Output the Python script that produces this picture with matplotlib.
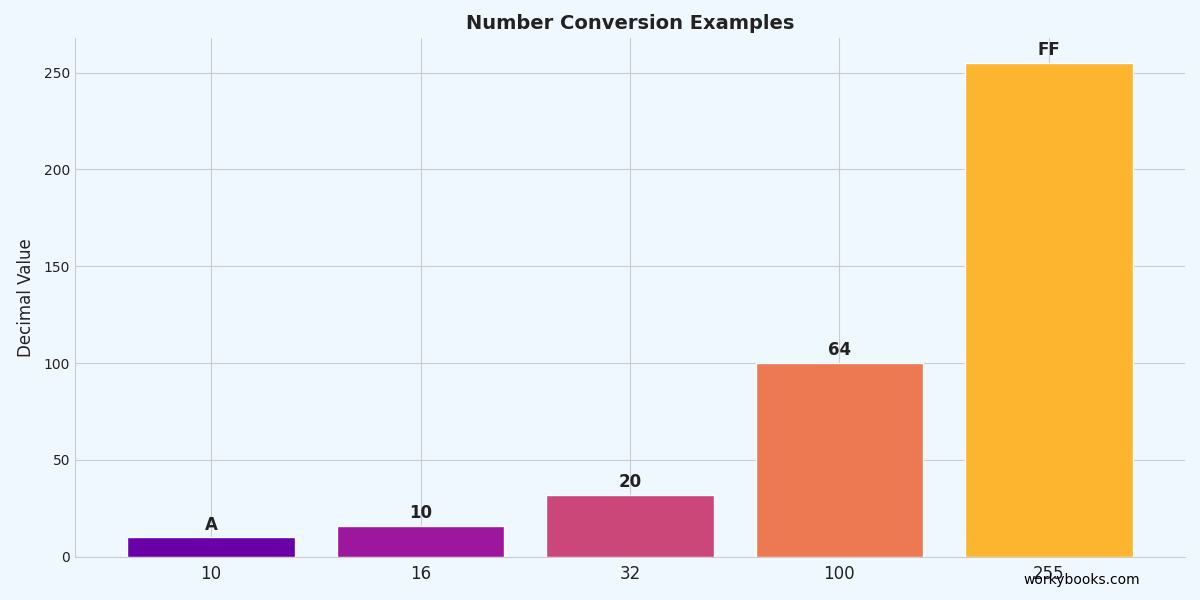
import matplotlib
matplotlib.use('Agg')
import matplotlib.pyplot as plt

categories = ['10', '16', '32', '100', '255']
values = [10, 16, 32, 100, 255]
hex_labels = ['A', '10', '20', '64', 'FF']
colors = ['#6a00a8', '#9c179e', '#cb4679', '#ed7953', '#fdb42f']

fig = plt.figure(figsize=(12, 6), dpi=100, facecolor='#f0f8ff')
ax = fig.add_axes([0.0625, 0.072, 0.925, 0.865])
ax.set_facecolor('#f0f8ff')

x = range(len(categories))
bars = ax.bar(x, values, width=0.8, color=colors, edgecolor='white', linewidth=1, zorder=3)
for b, lab in zip(bars, hex_labels):
    ax.text(b.get_x() + b.get_width() / 2, b.get_height() + 2, lab,
            ha='center', va='bottom', fontsize=12, fontweight='bold', color='#222222', zorder=4)

ax.set_xticks(list(x))
ax.set_xticklabels(categories, fontsize=12)
ax.set_xlim(-0.65, 4.65)
ax.set_ylim(0, 268)
ax.set_yticks([0, 50, 100, 150, 200, 250])
ax.tick_params(axis='y', labelsize=10, length=0, labelcolor='#222222')
ax.tick_params(axis='x', length=0, pad=6, labelcolor='#222222')
ax.set_ylabel('Decimal Value', fontsize=12, labelpad=6, color='#222222')
ax.set_title('Number Conversion Examples', fontsize=14, fontweight='bold', color='#222222')
ax.grid(True, color='#cccccc', linewidth=0.8, zorder=0)
for s in ['top', 'right']:
    ax.spines[s].set_visible(False)
for s in ['left', 'bottom']:
    ax.spines[s].set_color('#cccccc')

fig.text(0.95, 0.033, 'workybooks.com', ha='right', va='center', fontsize=10, color='black')

plt.savefig('out.png', dpi=100, facecolor=fig.get_facecolor())
